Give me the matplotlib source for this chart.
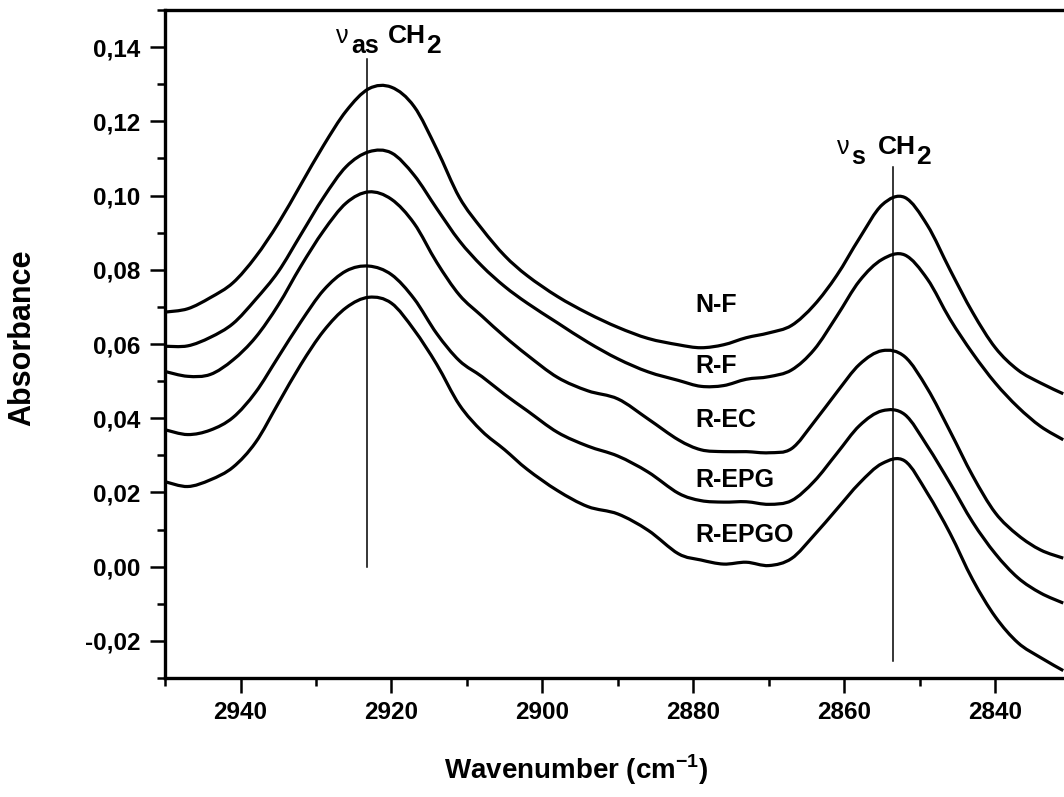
import numpy as np
import matplotlib
matplotlib.use('Agg')
import matplotlib.pyplot as plt
from matplotlib.path import Path
from matplotlib.patches import PathPatch
from matplotlib.ticker import MultipleLocator, FuncFormatter

plt.rcParams['font.family'] = ['Liberation Sans', 'DejaVu Sans']
plt.rcParams['font.weight'] = 'bold'
plt.rcParams['mathtext.fontset'] = 'custom'
plt.rcParams['mathtext.rm'] = 'Liberation Sans'
plt.rcParams['mathtext.bf'] = 'Liberation Sans:bold'

# wavenumber grid (cm-1)
wavenumber = [2950, 2947, 2944, 2941, 2938, 2935, 2932, 2929, 2926, 2923,
              2920, 2917, 2914, 2911, 2908, 2905, 2902, 2898, 2894, 2890,
              2886, 2882, 2879, 2876, 2873, 2870, 2867, 2864, 2861, 2858,
              2855, 2852, 2849, 2846, 2843, 2840, 2837, 2834, 2831]

nf = [0.0686, 0.0695, 0.0725, 0.0765, 0.0835, 0.0925, 0.1030, 0.1135, 0.1228, 0.1288,
      0.1292, 0.1240, 0.1125, 0.0995, 0.0910, 0.0838, 0.0784, 0.0728, 0.0683, 0.0645,
      0.0615, 0.0598, 0.0590, 0.0598, 0.0617, 0.0630, 0.0650, 0.0705, 0.0785, 0.0885,
      0.0975, 0.0995, 0.0920, 0.0800, 0.0685, 0.0590, 0.0530, 0.0495, 0.0466]

rf = [0.0594, 0.0595, 0.0618, 0.0655, 0.0720, 0.0795, 0.0895, 0.0995, 0.1078, 0.1118,
      0.1115, 0.1055, 0.0965, 0.0878, 0.0810, 0.0755, 0.0710, 0.0657, 0.0605, 0.0560,
      0.0525, 0.0502, 0.0486, 0.0488, 0.0505, 0.0512, 0.0530, 0.0585, 0.0675, 0.0770,
      0.0828, 0.0840, 0.0775, 0.0667, 0.0575, 0.0495, 0.0430, 0.0378, 0.0342]

rec = [0.0526, 0.0513, 0.0518, 0.0557, 0.0618, 0.0705, 0.0810, 0.0905, 0.0980, 0.1010,
       0.0990, 0.0925, 0.0820, 0.0732, 0.0675, 0.0620, 0.0570, 0.0510, 0.0474, 0.0452,
       0.0398, 0.0342, 0.0315, 0.0310, 0.0310, 0.0307, 0.0318, 0.0390, 0.0470, 0.0545,
       0.0582, 0.0566, 0.0480, 0.0365, 0.0245, 0.0145, 0.0085, 0.0045, 0.0023]

repg = [0.0369, 0.0356, 0.0368, 0.0402, 0.0470, 0.0565, 0.0660, 0.0745, 0.0797, 0.0810,
        0.0787, 0.0722, 0.0628, 0.0555, 0.0512, 0.0464, 0.0420, 0.0362, 0.0325, 0.0298,
        0.0255, 0.0198, 0.0178, 0.0174, 0.0175, 0.0168, 0.0178, 0.0230, 0.0305, 0.0380,
        0.0420, 0.0410, 0.0325, 0.0225, 0.0120, 0.0035, -0.0030, -0.0071, -0.0098]

repgo = [0.0229, 0.0216, 0.0234, 0.0268, 0.0335, 0.0440, 0.0545, 0.0635, 0.0698, 0.0726,
         0.0710, 0.0638, 0.0545, 0.0436, 0.0365, 0.0315, 0.0262, 0.0205, 0.0162, 0.0142,
         0.0098, 0.0035, 0.0018, 0.0007, 0.0012, 0.0003, 0.0022, 0.0085, 0.0155, 0.0225,
         0.0278, 0.0285, 0.0198, 0.0090, -0.0035, -0.0135, -0.0205, -0.0245, -0.0280]

series = [nf, rf, rec, repg, repgo]
names = ['N-F', 'R-F', 'R-EC', 'R-EPG', 'R-EPGO']
name_y = [0.0705, 0.0542, 0.0394, 0.0234, 0.0086]
name_x = 2879.8

# band markers: position, line bottom, line top
band_pos = [2923.2, 2853.55]
band_bottom = [0.0, -0.0253]
band_top = [0.1367, 0.1077]

fig = plt.figure(figsize=(10.64, 7.97), dpi=100)
ax = fig.add_axes([0.1551, 0.1493, 0.8449, 0.8381])


def smooth_path(x, y):
    # spline-style connection of the points (cubic Bezier segments)
    p = np.column_stack([x, y]).astype(float)
    ext = np.vstack([p[0], p, p[-1]])
    verts = [p[0]]
    codes = [Path.MOVETO]
    for i in range(len(p) - 1):
        p0, p1, p2, p3 = ext[i], ext[i + 1], ext[i + 2], ext[i + 3]
        verts += [p1 + (p2 - p0) / 6, p2 - (p3 - p1) / 6, p2]
        codes += [Path.CURVE4] * 3
    return Path(verts, codes)


for s in series:
    ax.add_patch(PathPatch(smooth_path(wavenumber, s), fill=False,
                           edgecolor='black', lw=2.3, joinstyle='round'))

for x, y0, y1 in zip(band_pos, band_bottom, band_top):
    ax.plot([x, x], [y0, y1], color='black', lw=1.1)

for n, y in zip(names, name_y):
    ax.text(name_x, y, n, fontsize=18, fontweight='bold', ha='left', va='center')


# peak labels: nu + subscript + CH2 (subscripts full size, shifted down)
def peak_label(x_nu, y_base, sub, gap):
    t_nu = ax.text(x_nu, y_base, '\u03bd', fontsize=18, fontweight='normal',
                   va='baseline')
    t_sub = ax.annotate(sub, xy=(1, 0), xycoords=t_nu, xytext=(2, -5),
                        textcoords='offset pixels', fontsize=18,
                        fontweight='bold', va='baseline')
    t_ch = ax.annotate('CH', xy=(1, 0), xycoords=t_sub, xytext=(gap, 15),
                       textcoords='offset pixels', fontsize=19,
                       fontweight='bold', va='baseline')
    ax.annotate('2', xy=(1, 0), xycoords=t_ch, xytext=(0, -5),
                textcoords='offset pixels', fontsize=19,
                fontweight='bold', va='baseline')


peak_label(2927.3, 0.1410, 'as', 9)
peak_label(2861.0, 0.1112, 's', 13)

ax.set_xlim(2950, 2830.9)
ax.set_ylim(-0.03, 0.15)
ax.xaxis.set_major_locator(MultipleLocator(20))
ax.xaxis.set_minor_locator(MultipleLocator(10))
ax.yaxis.set_major_locator(MultipleLocator(0.02))
ax.yaxis.set_minor_locator(MultipleLocator(0.01))
ax.yaxis.set_major_formatter(FuncFormatter(lambda v, p: f'{v:.2f}'.replace('.', ',')))
ax.xaxis.set_major_formatter(FuncFormatter(lambda v, p: f'{v:.0f}'))

ax.tick_params(which='major', direction='out', length=10.8, width=1.8,
               labelsize=17.5, pad=6)
ax.tick_params(which='minor', direction='out', length=5.8, width=1.8)
ax.tick_params(axis='y', which='major', pad=7)
for lab in ax.get_xticklabels() + ax.get_yticklabels():
    lab.set_fontweight('bold')

ax.spines['right'].set_visible(False)
for side in ['left', 'bottom', 'top']:
    ax.spines[side].set_linewidth(2.4)

ax.set_xlabel(r'Wavenumber (cm$^{\mathbf{-1}}$)', fontsize=20, fontweight='bold')
ax.xaxis.set_label_coords(0.4575, -0.112)
ax.set_ylabel('Absorbance', fontsize=22, fontweight='bold')
ax.yaxis.set_label_coords(-0.142, 0.51)

fig.savefig('out.png', dpi=100)
